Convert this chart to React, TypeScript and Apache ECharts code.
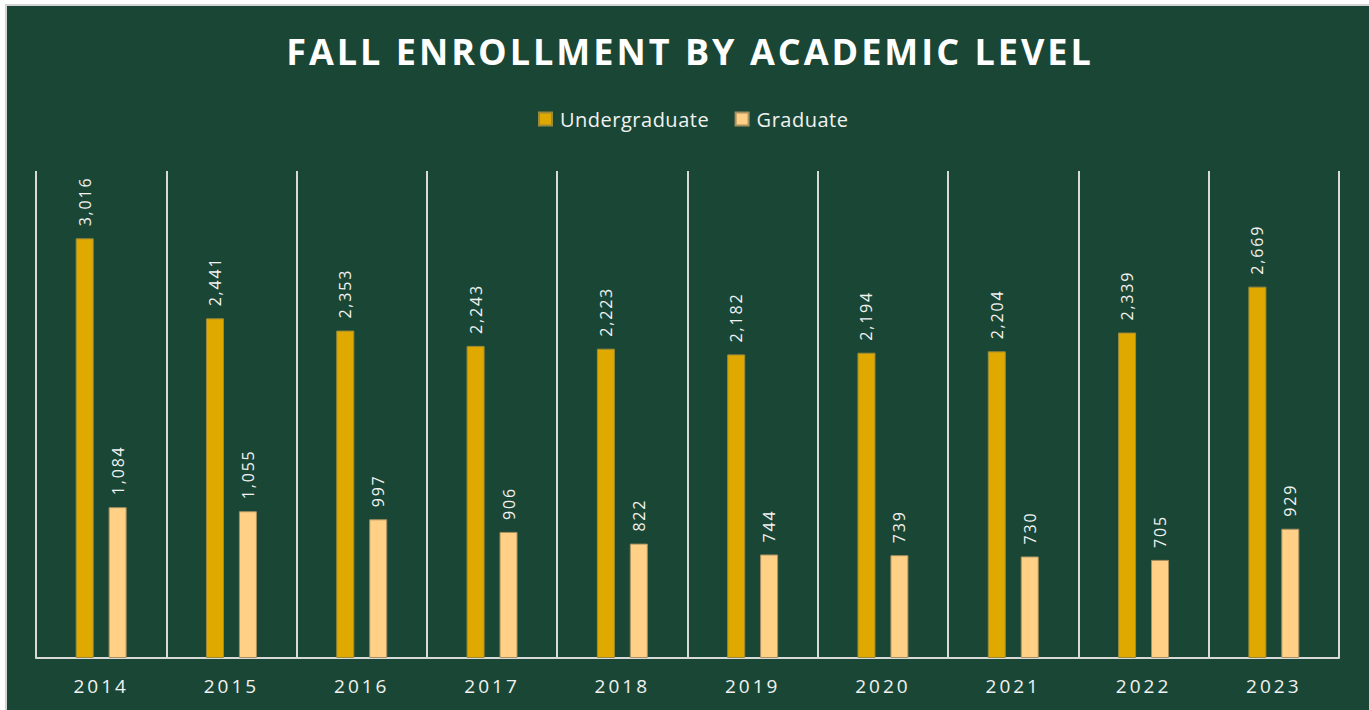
import React, { useEffect, useRef } from "react";
import * as echarts from "echarts";

const years = ["2014", "2015", "2016", "2017", "2018", "2019", "2020", "2021", "2022", "2023"];
const undergraduate = [3016, 2441, 2353, 2243, 2223, 2182, 2194, 2204, 2339, 2669];
const graduate = [1084, 1055, 997, 906, 822, 744, 739, 730, 705, 929];
const seriesNames = ["Undergraduate", "Graduate"];
const titleText = "FALL ENROLLMENT BY ACADEMIC LEVEL";

const FONT = "'Open Sans', 'Noto Sans', sans-serif";
const BG = "#1a4735";

const css = `
.enr-chart text[style*="36px"] { letter-spacing: 3px; }
.enr-chart text[style*="20px"] { letter-spacing: 0.5px; }
.enr-chart text[style*="19px"] { letter-spacing: 3px; }
.enr-chart text[style*="16px"] { letter-spacing: 1.8px; }
`;

export default function App() {
  const ref = useRef<HTMLDivElement>(null);
  useEffect(() => {
    if (!ref.current) return;
    const chart = echarts.init(ref.current, undefined, { renderer: "svg" });
    const labelCfg = {
      show: true,
      position: "top",
      rotate: 90,
      align: "left",
      verticalAlign: "middle",
      distance: 12,
      color: "#f2f2f2",
      fontSize: 16,
      fontFamily: FONT,
      formatter: (p: any) => Number(p.value).toLocaleString("en-US"),
    };
    chart.setOption({
      animation: false,
      backgroundColor: BG,
      title: {
        text: titleText,
        left: 678,
        top: 22,
        textAlign: "center",
        textStyle: { color: "#ffffff", fontSize: 36, fontWeight: "bold", fontFamily: FONT },
      },
      legend: {
        data: seriesNames,
        top: 98,
        left: 526,
        itemWidth: 13,
        itemHeight: 13,
        itemGap: 32,
        icon: "rect",
        textStyle: { color: "#f2f2f2", fontSize: 20, fontFamily: FONT, padding: [0, 0, 0, 3] },
      },
      grid: { left: 29, top: 165, width: 1303, height: 487, containLabel: false },
      xAxis: {
        type: "category",
        data: years,
        axisLine: { show: true, lineStyle: { color: "#d9d9d9", width: 2 } },
        axisTick: { show: false },
        splitLine: { show: true, lineStyle: { color: "#d9d9d9", width: 2 } },
        axisLabel: { color: "#f2f2f2", fontSize: 19, fontFamily: FONT, margin: 18 },
      },
      yAxis: {
        type: "value",
        min: 0,
        max: 3500,
        show: false,
        splitLine: { show: false },
      },
      series: [
        {
          name: seriesNames[0],
          type: "bar",
          data: undergraduate,
          barWidth: 18,
          barGap: "83%",
          itemStyle: { color: "#e0a900", borderColor: "#9c8a3a", borderWidth: 1 },
          label: labelCfg,
        },
        {
          name: seriesNames[1],
          type: "bar",
          data: graduate,
          barWidth: 18,
          itemStyle: { color: "#ffd086", borderColor: "#a89060", borderWidth: 1 },
          label: labelCfg,
        },
      ],
    });
    return () => chart.dispose();
  }, []);
  return (
    <div style={{ position: "fixed", left: 0, top: 0, width: 1369, height: 710, background: "#ffffff", overflow: "hidden" }}>
      <style>{css}</style>
      <div style={{ position: "absolute", left: 5, top: 4, width: 1380, height: 730, border: "2px solid #d4d4d4", boxSizing: "border-box", background: BG }} />
      <div ref={ref} className="enr-chart" style={{ position: "absolute", left: 7, top: 6, width: 1362, height: 704 }} />
    </div>
  );
}
